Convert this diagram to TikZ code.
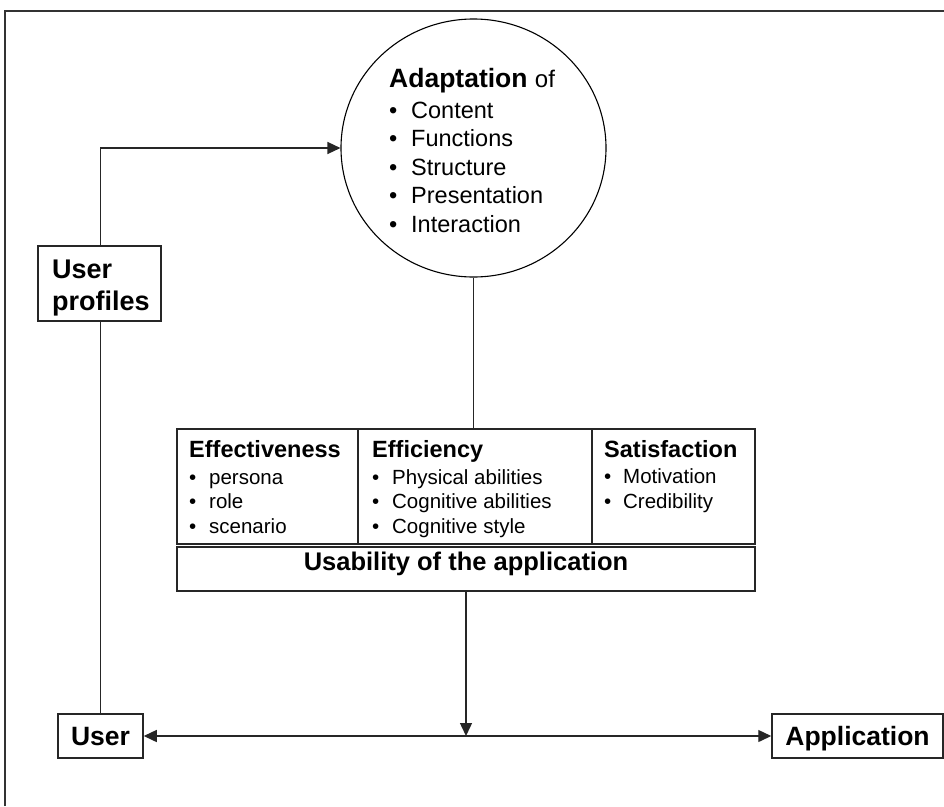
\documentclass[tikz,border=0pt]{standalone}
\usepackage{fontspec}
\setmainfont{Liberation Sans}
\usetikzlibrary{arrows.meta,shapes.geometric}
% bullet followed by an item text
\newcommand\bul[2][20pt]{\makebox[#1][l]{\textbullet}#2}

\begin{document}
\begin{tikzpicture}[x=1pt,y=-1pt,
  box/.style={draw=black!85,line width=1.5pt,inner sep=0pt},
  named/.style={box,font=\fontsize{26.5}{30}\selectfont\bfseries,
                text height=19pt,text depth=0pt},
  lbl/.style={anchor=base west,inner sep=0pt},
  head/.style={lbl,font=\fontsize{23.5}{28}\selectfont\bfseries},
  item/.style={lbl,font=\fontsize{20.5}{24}\selectfont},
  citem/.style={lbl,font=\fontsize{23.5}{28}\selectfont},
  link/.style={draw=black!85,line width=1.4pt},
  tip/.style={-{Triangle[length=13pt,width=12pt]}},
  tips/.style={{Triangle[length=13pt,width=12pt]}-{Triangle[length=13pt,width=12pt]}},
]
\useasboundingbox (0,0) rectangle (944,806);

% page frame (left and top edges)
\draw[draw=black!80,line width=1.8pt] (5,806) -- (5,11) -- (944,11);

% adaptation circle
\node[ellipse,draw=black,line width=1.1pt,minimum width=265pt,minimum height=258pt,inner sep=0pt]
  (adapt) at (473.5,148) {};
\node[lbl] (adapthead) at (389,87) {\fontsize{26.5}{30}\selectfont\textbf{Adaptation} \fontsize{24}{28}\selectfont of};
\node[citem] (a1) at (389,118) {\bul[22pt]{Content}};
\node[citem] (a2) at (389,146.5) {\bul[22pt]{Functions}};
\node[citem] (a3) at (389,175) {\bul[22pt]{Structure}};
\node[citem] (a4) at (389,203.5) {\bul[22pt]{Presentation}};
\node[citem] (a5) at (389,232) {\bul[22pt]{Interaction}};

% user profiles
\node[box,minimum width=123pt,minimum height=75pt] (prof) at (99.5,283.5) {};
\node[lbl,font=\fontsize{27}{32}\selectfont\bfseries] (proft1) at (52,278) {User};
\node[lbl,font=\fontsize{27}{32}\selectfont\bfseries] (proft2) at (52,310) {profiles};

% usability table
\node[box,minimum width=181pt,minimum height=115pt] (eff) at (267.5,486.5) {};
\node[box,minimum width=234pt,minimum height=115pt] (effi) at (475,486.5) {};
\node[box,minimum width=163pt,minimum height=115pt] (sat) at (673.5,486.5) {};
\node[box,minimum width=578pt,minimum height=44pt] (usab) at (466,569) {};

\node[head] (effh) at (189,457) {Effectiveness};
\node[item] (e1) at (189,484) {\bul{persona}};
\node[item] (e2) at (189,508.5) {\bul{role}};
\node[item] (e3) at (189,533) {\bul{scenario}};

\node[head] (effih) at (372,457) {Efficiency};
\node[item] (f1) at (372,484) {\bul{Physical abilities}};
\node[item] (f2) at (372,508.5) {\bul{Cognitive abilities}};
\node[item] (f3) at (372,533) {\bul{Cognitive style}};

\node[head] (sath) at (604,457) {Satisfaction};
\node[item] (s1) at (604,483.5) {\bul[19pt]{Motivation}};
\node[item] (s2) at (604,508) {\bul[19pt]{Credibility}};

\node[anchor=base,inner sep=0pt,font=\fontsize{25.5}{30}\selectfont\bfseries]
  (usabt) at (466,570) {Usability of the application};

% user and application
\node[named,minimum width=85pt,minimum height=44pt] (user) at (100.5,736) {User};
\node[named,minimum width=171pt,minimum height=44pt] (app) at (857.5,736) {Application};
\coordinate (meet) at (466,736);

% connectors
\draw[link] (adapt.south) -- (adapt.south |- effi.north);
\draw[link,tips] (user.east) -- (app.west);
\draw[link,tip] (usab.south -| meet) -- (meet);
\draw[link] (user.north) -- (user.north |- prof.south);
\draw[link,tip] (prof.north -| user.north) |- (adapt.west);
\end{tikzpicture}
\end{document}
